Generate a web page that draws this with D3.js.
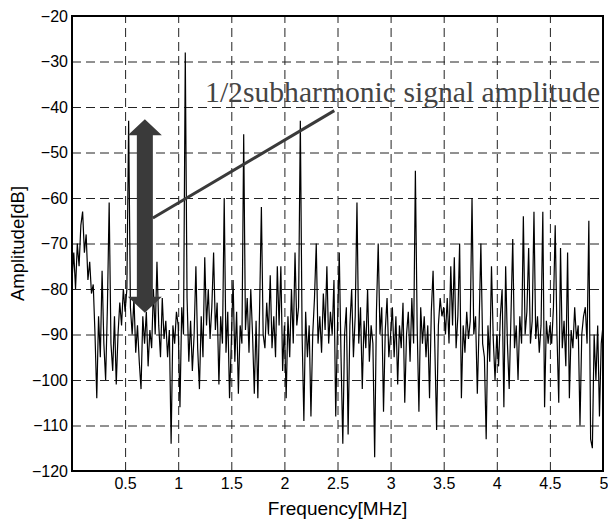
<!DOCTYPE html>
<meta charset="utf-8">
<script src="https://d3js.org/d3.v7.min.js"></script>
<style>
  body { margin: 0; background: #fff; }
</style>
<div id="chart"></div>
<script>
// spectrum, one value every 1/60 MHz from 0 to 5 MHz
var freqStep = 1 / 60;
var amp0 = [-78,-72,-80,-70,-75,-66,-63,-72,-68,-78,-74,-81,-79,-90,-104,-86,-95,-76,-92,-100,-84,-61,-92,-98,-86,-101,-90,-83,-88,-80];
var amp1 = [-85,-80,-43,-84,-90,-82,-94,-88,-96,-102,-86,-92,-85,-97,-89,-93,-80,-90,-74,-88,-95,-82,-91,-87,-95,-89,-114,-88,-92,-85];
var amp2 = [-88,-106,-84,-90,-28,-82,-96,-87,-98,-90,-75,-93,-102,-86,-95,-73,-88,-80,-91,-84,-72,-89,-83,-101,-86,-92,-60,-94,-85,-104];
var amp3 = [-92,-78,-96,-85,-103,-88,-92,-46,-89,-82,-94,-80,-90,-103,-87,-104,-84,-62,-90,-93,-83,-90,-77,-93,-86,-95,-75,-88,-75,-98];
var amp4 = [-88,-104,-86,-95,-80,-92,-72,-88,-84,-43,-90,-109,-85,-95,-88,-108,-90,-82,-70,-92,-86,-94,-81,-89,-75,-92,-85,-90,-78,-108];
var amp5 = [-88,-72,-95,-114,-90,-84,-112,-88,-80,-95,-86,-61,-92,-84,-102,-87,-93,-80,-96,-88,-92,-117,-85,-70,-90,-84,-107,-89,-82,-95];
var amp6 = [-90,-84,-95,-86,-101,-88,-93,-83,-105,-90,-85,-96,-82,-92,-54,-88,-107,-84,-92,-86,-95,-88,-104,-85,-76,-93,-111,-88,-82,-86];
var amp7 = [-84,-90,-82,-92,-75,-88,-73,-93,-86,-70,-104,-88,-94,-85,-91,-87,-60,-90,-86,-103,-88,-70,-92,-95,-113,-88,-96,-75,-91,-100];
var amp8 = [-90,-97,-86,-80,-106,-75,-92,-102,-86,-69,-93,-88,-100,-86,-92,-64,-90,-85,-71,-92,-87,-63,-91,-86,-94,-88,-63,-106,-87,-92];
var amp9 = [-88,-92,-84,-66,-90,-105,-71,-93,-87,-97,-72,-104,-89,-93,-84,-91,-88,-110,-90,-86,-84,-92,-65,-113,-115,-90,-100,-88,-108,-92,-88];

var xTicks = [0.5, 1, 1.5, 2, 2.5, 3, 3.5, 4, 4.5, 5];
var yTicks = [-120, -110, -100, -90, -80, -70, -60, -50, -40, -30, -20];

var amps = [].concat(amp0, amp1, amp2, amp3, amp4, amp5, amp6, amp7, amp8, amp9);
var data = amps.map(function(v, i) { return {f: i * freqStep, a: v}; });

var margin = {top: 16, right: 5, bottom: 49, left: 72},
    width = 608 - margin.left - margin.right,
    height = 520 - margin.top - margin.bottom;

var svg = d3.select("#chart")
  .append("svg")
    .attr("width", 608)
    .attr("height", 520)
  .append("g")
    .attr("transform", "translate(" + margin.left + "," + margin.top + ")");

var x = d3.scaleLinear().domain([0, 5]).range([0, width]);
var y = d3.scaleLinear().domain([-120, -20]).range([height, 0]);
var fmt = d3.format("~g");

// dashed grid
svg.append("g")
    .attr("class", "grid")
    .call(d3.axisLeft(y).tickValues(yTicks.slice(1, -1)).tickSize(-width).tickFormat(""))
    .call(function(g) { g.select(".domain").remove(); });
svg.append("g")
    .attr("class", "grid")
    .attr("transform", "translate(0," + height + ")")
    .call(d3.axisBottom(x).tickValues(xTicks.slice(0, -1)).tickSize(-height).tickFormat(""))
    .call(function(g) { g.select(".domain").remove(); });
svg.selectAll(".grid line")
    .attr("stroke", "#222")
    .attr("stroke-width", 1)
    .attr("stroke-dasharray", "9,5");

// trace
svg.append("defs").append("clipPath")
    .attr("id", "clip")
  .append("rect")
    .attr("width", width)
    .attr("height", height);

var line = d3.line()
    .x(function(d) { return x(d.f); })
    .y(function(d) { return y(d.a); });

svg.append("path")
    .datum(data)
    .attr("clip-path", "url(#clip)")
    .attr("fill", "none")
    .attr("stroke", "#000")
    .attr("stroke-width", 1.2)
    .attr("d", line);

// axes
var xAxis = svg.append("g")
    .attr("transform", "translate(0," + height + ")")
    .call(d3.axisBottom(x).tickValues(xTicks).tickSize(0).tickPadding(7).tickFormat(fmt));
xAxis.select(".domain").remove();
xAxis.selectAll("text")
    .style("font-family", "Liberation Sans, Arial, sans-serif")
    .style("font-size", "16px")
    .attr("fill", "#000");
// last label sits at the right edge, keep it inside the page
xAxis.selectAll(".tick")
    .filter(function(d) { return d === 5; })
    .select("text")
    .attr("text-anchor", "end")
    .attr("x", 5);

var yAxis = svg.append("g")
    .call(d3.axisLeft(y).tickValues(yTicks).tickSize(0).tickPadding(4));
yAxis.select(".domain").remove();
yAxis.selectAll("text")
    .style("font-family", "Liberation Sans, Arial, sans-serif")
    .style("font-size", "16px")
    .attr("fill", "#000");

// frame
svg.append("rect")
    .attr("width", width)
    .attr("height", height)
    .attr("fill", "none")
    .attr("stroke", "#000")
    .attr("stroke-width", 2);

// axis titles
svg.append("text")
    .attr("text-anchor", "middle")
    .attr("x", width / 2)
    .attr("y", height + 44)
    .style("font-family", "Liberation Sans, Arial, sans-serif")
    .style("font-size", "19px")
    .attr("fill", "#000")
    .text("Frequency[MHz]");

svg.append("text")
    .attr("text-anchor", "middle")
    .attr("transform", "translate(" + (-48) + "," + (height / 2) + ") rotate(-90)")
    .style("font-family", "Liberation Sans, Arial, sans-serif")
    .style("font-size", "18.5px")
    .attr("fill", "#000")
    .text("Amplitude[dB]");

// annotation: double arrow, pointer line, label
var arrowF = 0.686, topDb = -42.7, botDb = -85.2;
var ax = x(arrowF), yTop = y(topDb), yBot = y(botDb);
var shaft = 8, head = 17, headH = 16;
svg.append("path")
    .attr("fill", "#3a3a3a")
    .attr("d", "M" + ax + "," + yTop +
      "L" + (ax + head) + "," + (yTop + headH) +
      "L" + (ax + shaft) + "," + (yTop + headH) +
      "L" + (ax + shaft) + "," + (yBot - headH) +
      "L" + (ax + head) + "," + (yBot - headH) +
      "L" + ax + "," + yBot +
      "L" + (ax - head) + "," + (yBot - headH) +
      "L" + (ax - shaft) + "," + (yBot - headH) +
      "L" + (ax - shaft) + "," + (yTop + headH) +
      "L" + (ax - head) + "," + (yTop + headH) + "Z");

svg.append("line")
    .attr("x1", ax + shaft)
    .attr("y1", y(-64.4))
    .attr("x2", x(2.47))
    .attr("y2", y(-40.8))
    .attr("stroke", "#3a3a3a")
    .attr("stroke-width", 3);

svg.append("text")
    .attr("x", x(1.253))
    .attr("y", y(-38.8))
    .attr("textLength", 395)
    .attr("lengthAdjust", "spacingAndGlyphs")
    .style("font-family", "Liberation Serif, Times New Roman, serif")
    .style("font-size", "29.5px")
    .attr("fill", "#444")
    .text("1/2subharmonic signal amplitude");
</script>
